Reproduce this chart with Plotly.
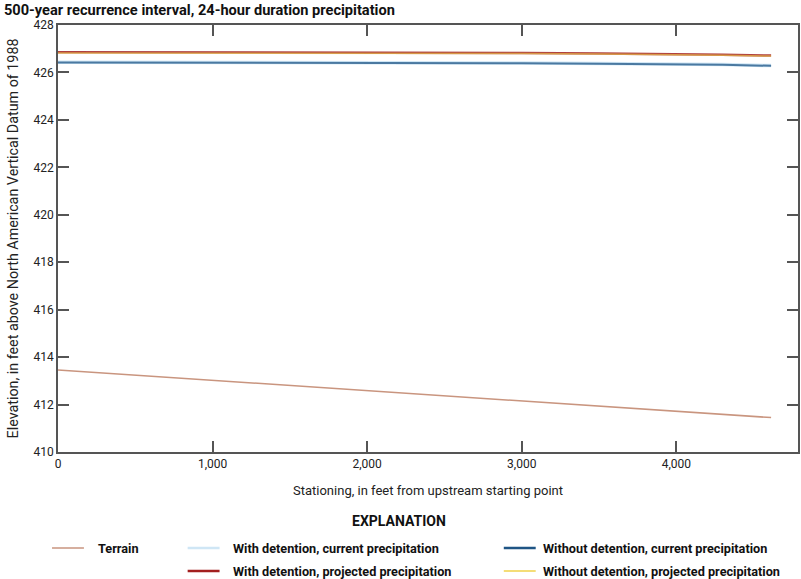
import plotly.graph_objects as go

station = [0, 500, 1000, 1500, 2000, 2500, 3000, 3500, 4000, 4300, 4613]
terrain = [413.46, 413.24, 413.02, 412.81, 412.59, 412.37, 412.16, 411.94, 411.72, 411.59, 411.45]
wd_current = [426.43, 426.43, 426.43, 426.42, 426.42, 426.41, 426.40, 426.38, 426.36, 426.33, 426.29]
wd_projected = [426.85, 426.85, 426.85, 426.84, 426.84, 426.83, 426.82, 426.80, 426.78, 426.75, 426.71]
wo_current = [426.42, 426.42, 426.42, 426.41, 426.41, 426.40, 426.39, 426.37, 426.35, 426.32, 426.28]
wo_projected = [426.82, 426.82, 426.82, 426.82, 426.81, 426.81, 426.80, 426.78, 426.76, 426.73, 426.69]

names = ["Terrain", "With detention, current precipitation", "With detention, projected precipitation",
         "Without detention, current precipitation", "Without detention, projected precipitation"]
colors = ["#c9957f", "#cfe6f5", "#a31f1f", "#1f5585", "#f0d24a"]
widths = [1.5, 3.5, 2.5, 2, 1.5]
opac = [1, 1, 0.85, 0.75, 0.6]
series = [terrain, wd_current, wd_projected, wo_current, wo_projected]

FONT = "Roboto, sans-serif"

fig = go.Figure()
for n, s, c, w, o in zip(names, series, colors, widths, opac):
    fig.add_trace(go.Scatter(x=station, y=s, mode="lines", name=n, opacity=o,
                             line=dict(color=c, width=w), showlegend=False))

axis_common = dict(showline=True, linecolor="#555555", linewidth=1.5, mirror="ticks",
                   ticks="inside", ticklen=11, tickcolor="#555555", tickwidth=1.5,
                   showgrid=False, zeroline=False, tickfont=dict(size=12, color="#222"))
fig.update_xaxes(range=[0, 4787], tickvals=[0, 1000, 2000, 3000, 4000],
                 ticktext=["0", "1,000", "2,000", "3,000", "4,000"],
                 title=dict(text="Stationing, in feet from upstream starting point",
                            font=dict(size=13, color="#222"), standoff=16), **axis_common)
fig.update_yaxes(range=[410, 428], tickvals=list(range(410, 429, 2)),
                 title=dict(text="Elevation, in feet above North American Vertical Datum of 1988",
                            font=dict(size=14.3, color="#222"), standoff=12), **axis_common)

W, H = 801, 579
L, R, T, B = 58, 1, 25, 127
pw, ph = W - L - R, H - T - B
def px_x(p): return (p - L) / pw
def px_y(p): return (H - B - p) / ph

ann = [dict(text="<b>500-year recurrence interval, 24-hour duration precipitation</b>",
            x=px_x(2), y=px_y(10), xref="paper", yref="paper", xanchor="left", yanchor="middle",
            showarrow=False, font=dict(size=14.6, color="#111")),
       dict(text="<b>EXPLANATION</b>", x=px_x(400), y=px_y(521), xref="paper", yref="paper",
            xanchor="center", yanchor="middle", showarrow=False, font=dict(size=14, color="#111"))]
shapes = []
legend_items = [(0, 0, 52, 96), (1, 0, 188, 231), (3, 0, 505, 542),
                (2, 1, 188, 231), (4, 1, 505, 542)]
for idx, row, lx, tx in legend_items:
    yy = 548 + row * 23
    shapes.append(dict(type="line", xref="paper", yref="paper",
                       x0=px_x(lx), x1=px_x(lx + 32), y0=px_y(yy), y1=px_y(yy),
                       line=dict(color=colors[idx], width=2.5 if idx not in (0, 4) else 1.5)))
    ann.append(dict(text="<b>" + names[idx] + "</b>", x=px_x(tx), y=px_y(yy), xref="paper", yref="paper",
                    xanchor="left", yanchor="middle", showarrow=False,
                    font=dict(size=12.7, color="#111")))

fig.update_layout(width=W, height=H, margin=dict(l=L, r=R, t=T, b=B),
                  paper_bgcolor="white", plot_bgcolor="white",
                  font=dict(family=FONT, color="#222"),
                  annotations=ann, shapes=shapes)
fig.write_html("out.html")
